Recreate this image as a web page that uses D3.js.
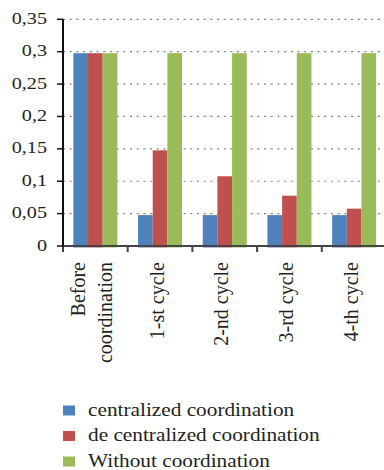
<!DOCTYPE html>
<html>
<head>
<meta charset="utf-8">
<script src="https://cdn.jsdelivr.net/npm/d3@7"></script>
<style>
  html, body { margin: 0; padding: 0; background: #fff; }
  svg { display: block; }
  text { font-family: "Liberation Serif", "Times New Roman", serif; fill: #231f20; }
</style>
</head>
<body>
<div id="chart"></div>
<script>
// Categories along the x axis (multi-line labels split on "\n")
const categories = ["Before\ncoordination", "1-st cycle", "2-nd cycle", "3-rd cycle", "4-th cycle"];
const seriesNames = ["centralized coordination", "de centralized coordination", "Without coordination"];
const centralized = [0.30, 0.05, 0.05, 0.05, 0.05];
const decentralized = [0.30, 0.15, 0.11, 0.08, 0.06];
const without = [0.30, 0.30, 0.30, 0.30, 0.30];
const yTicks = [0, 0.05, 0.1, 0.15, 0.2, 0.25, 0.3, 0.35];
const yTickLabels = ["0", "0,05", "0,1", "0,15", "0,2", "0,25", "0,3", "0,35"];
const colors = ["#4f81bd", "#c0504d", "#9bbb59"];

const W = 384, H = 470;
const plotLeft = 63, plotRight = 386.5, plotTop = 19.3, plotBottom = 246;
const stretch = 1.2;        // horizontal stretch of tick labels
const legendStretch = 1.17; // horizontal stretch of legend labels

const svg = d3.select("#chart").append("svg").attr("width", W).attr("height", H);

const x0 = d3.scaleBand().domain(categories).range([plotLeft, plotRight]);
const bw = x0.bandwidth();
const x1 = d3.scaleBand().domain(seriesNames).range([bw * 0.16, bw * 0.84]);
const y = d3.scaleLinear().domain([0, 0.35]).range([plotBottom, plotTop]);

const values = [centralized, decentralized, without];

// dotted horizontal gridlines
svg.append("g")
  .selectAll("line")
  .data(yTicks.filter(t => t > 0))
  .join("line")
  .attr("x1", plotLeft).attr("x2", W)
  .attr("y1", d => y(d)).attr("y2", d => y(d))
  .attr("stroke", "#808080")
  .attr("stroke-width", 1.2)
  .attr("stroke-dasharray", "2,4.7");

// bars
const groups = svg.append("g")
  .selectAll("g")
  .data(categories)
  .join("g")
  .attr("transform", d => `translate(${x0(d)},0)`);

groups.selectAll("rect")
  .data((c, ci) => seriesNames.map((s, si) => ({ s, si, v: values[si][ci] })))
  .join("rect")
  .attr("x", d => x1(d.s))
  .attr("width", x1.bandwidth())
  .attr("y", d => y(d.v) + 1.5)
  .attr("height", d => y(0) - y(d.v))
  .attr("fill", d => colors[d.si]);

// x axis
const xAxis = svg.append("g").attr("transform", `translate(0,${plotBottom})`);
xAxis.append("line")
  .attr("x1", plotLeft).attr("x2", W)
  .attr("stroke", "#444").attr("stroke-width", 2);
const boundaries = categories.map(c => x0(c));
xAxis.selectAll("line.tick")
  .data(boundaries)
  .join("line")
  .attr("class", "tick")
  .attr("x1", d => d).attr("x2", d => d)
  .attr("y1", 0).attr("y2", 6)
  .attr("stroke", "#444").attr("stroke-width", 2);

// rotated category labels
const labelY = 262;
categories.forEach(c => {
  const lines = c.split("\n");
  const cx = x0(c) + bw / 2;
  const lineGap = 27;
  lines.forEach((ln, i) => {
    const off = 3.6 + (i - (lines.length - 1) / 2) * lineGap;
    svg.append("text")
      .attr("transform", `translate(${cx + off},${labelY}) rotate(-90)`)
      .attr("text-anchor", "end")
      .attr("font-size", 20)
      .text(ln);
  });
});

// y axis
const yAxis = svg.append("g");
yAxis.append("line")
  .attr("x1", plotLeft).attr("x2", plotLeft)
  .attr("y1", plotTop).attr("y2", plotBottom + 1)
  .attr("stroke", "#111").attr("stroke-width", 2);
yAxis.selectAll("line.tick")
  .data(yTicks)
  .join("line")
  .attr("class", "tick")
  .attr("x1", plotLeft - 6).attr("x2", plotLeft)
  .attr("y1", d => y(d)).attr("y2", d => y(d))
  .attr("stroke", "#111").attr("stroke-width", 1.5);
yAxis.selectAll("text")
  .data(yTicks)
  .join("text")
  .attr("transform", d => `translate(47,${y(d) + 4.5}) scale(${stretch},1)`)
  .attr("text-anchor", "end")
  .attr("font-size", 16.8)
  .text((d, i) => yTickLabels[i]);

// legend
const legend = svg.append("g");
seriesNames.forEach((s, i) => {
  const cy = 410.5 + i * 25.5;
  legend.append("rect")
    .attr("x", 63).attr("y", cy - 5)
    .attr("width", 12).attr("height", 10)
    .attr("fill", colors[i]);
  legend.append("text")
    .attr("transform", `translate(88,${cy + 5}) scale(${legendStretch},1)`)
    .attr("font-size", 18.2)
    .text(s);
});
</script>
</body>
</html>
